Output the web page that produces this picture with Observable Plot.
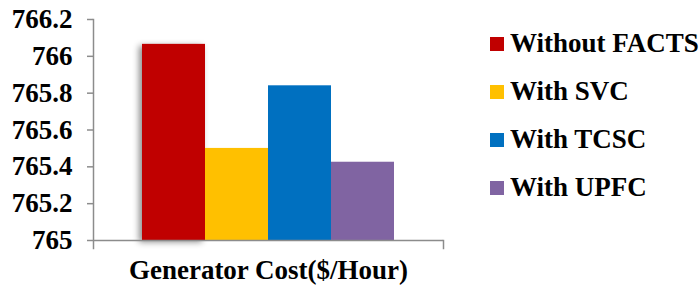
<!DOCTYPE html>
<html>
<head>
<meta charset="utf-8">
<script src="https://cdn.jsdelivr.net/npm/d3@7"></script>
<script src="https://cdn.jsdelivr.net/npm/@observablehq/plot@0.6"></script>
<style>
  body { margin: 0; background: #fff; }
  #wrap { position: relative; width: 699px; height: 286px; }
  .lg-swatches { position: absolute; left: 490px; top: 20px; margin: 0; }
  .lg-swatch { height: 47px; margin: 0 !important; }
  .lg-swatch > svg { margin-right: 6px !important; }
</style>
</head>
<body>
<div id="wrap"></div>
<script>
const series = ["Without FACTS", "With SVC", "With TCSC", "With UPFC"];
const values = [766.065, 765.50, 765.84, 765.425];
const colors = ["#C00000", "#FFC000", "#0070C0", "#8064A2"];
const yTicks = [765, 765.2, 765.4, 765.6, 765.8, 766, 766.2];
const yTickLabels = ["765", "765.2", "765.4", "765.6", "765.8", "766", "766.2"];
const xLabel = "Generator Cost($/Hour)";

const data = series.map((s, i) => ({series: s, value: values[i]}));
const font = "'Liberation Serif', 'Times New Roman', serif";

const chart = Plot.plot({
  width: 699,
  height: 286,
  marginLeft: 93,
  marginRight: 256,
  marginTop: 19,
  marginBottom: 46,
  style: {fontFamily: font, fontWeight: "bold", fontSize: "27px", color: "#000", background: "#fff"},
  x: {domain: series, paddingInner: 0, paddingOuter: 0.745, axis: null},
  y: {domain: [765, 766.2], axis: null},
  color: {domain: series, range: colors},
  marks: [
    Plot.barY(data, {x: "series", y1: 765, y2: "value", fill: "series", className: "bars"}),
    Plot.ruleY([765], {stroke: "#8c8c8c", strokeWidth: 1.5}),
    Plot.frame({anchor: "left", stroke: "#8c8c8c", strokeWidth: 1.5, insetBottom: -8}),
    Plot.frame({anchor: "right", stroke: "#8c8c8c", strokeWidth: 1.5, insetTop: 221, insetBottom: -8}),
    Plot.axisY({ticks: yTicks, tickFormat: (d) => yTickLabels[yTicks.indexOf(d)], tickSize: 6, tickPadding: 15,
      stroke: "#8c8c8c", strokeWidth: 1.5, fill: "#000", fontSize: 27, fontWeight: "bold", fontFamily: font, label: null}),
    Plot.text([xLabel], {frameAnchor: "bottom", dy: 30, lineAnchor: "middle", fontSize: 27, fontWeight: "bold", fontFamily: font, fill: "#000"})
  ]
});

// soft shadow on the first (red) bar, as in the original
d3.select(chart).select("g[aria-label='bar'] rect").style("filter", "drop-shadow(-3px 2px 3px rgba(0,0,0,0.45))");

const legend = Plot.legend({
  color: {domain: series, range: colors},
  legend: "swatches",
  className: "lg",
  columns: 1,
  swatchSize: 14,
  style: {fontFamily: font, fontWeight: "bold", fontSize: "27px", color: "#000"}
});

const wrap = document.getElementById("wrap");
wrap.appendChild(chart);
wrap.appendChild(legend);
</script>
</body>
</html>
